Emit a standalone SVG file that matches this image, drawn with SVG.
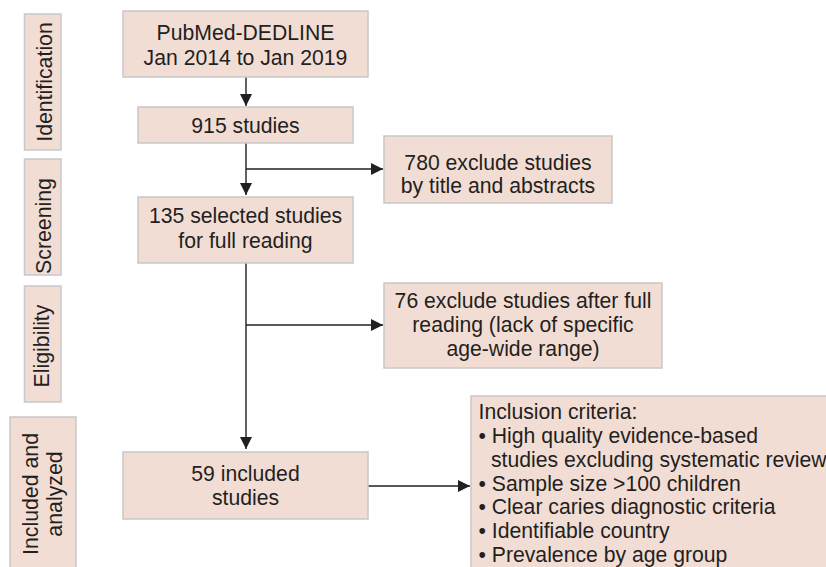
<svg xmlns="http://www.w3.org/2000/svg" width="826" height="567" viewBox="0 0 826 567">
  <style>
    .box { fill: #f2ddd5; stroke: #c8c8c8; stroke-width: 1.5; }
    .t { font-family: "Liberation Sans", Arial, sans-serif; font-size: 21.2px; fill: #231f20; }
    .c { text-anchor: middle; }
    .side { font-family: "Liberation Sans", Arial, sans-serif; font-size: 21.3px; fill: #231f20; text-anchor: middle; }
    .ln { stroke: #231f20; stroke-width: 1.4; fill: none; }
  </style>
  <defs>
    <marker id="ah" markerUnits="userSpaceOnUse" markerWidth="12" markerHeight="12" refX="12" refY="6" orient="auto">
      <path d="M0,0 L12,6 L0,12 z" fill="#231f20"/>
    </marker>
  </defs>
  <rect width="826" height="567" fill="#ffffff"/>

  <g id="stage-identification">
    <rect class="box" x="24.5" y="14" width="36.5" height="136"/>
    <text class="side" transform="translate(52,82) rotate(-90)">Identification</text>
  </g>
  <g id="stage-screening">
    <rect class="box" x="24.5" y="159" width="36.5" height="116"/>
    <text class="side" transform="translate(51,226) rotate(-90)">Screening</text>
  </g>
  <g id="stage-eligibility">
    <rect class="box" x="24.5" y="286" width="36.5" height="116"/>
    <text class="side" transform="translate(49,346) rotate(-90)">Eligibility</text>
  </g>
  <g id="stage-included">
    <rect class="box" x="10" y="417" width="66" height="170"/>
    <text class="side" transform="translate(38,494) rotate(-90)">Included and</text>
    <text class="side" transform="translate(62,494) rotate(-90)">analyzed</text>
  </g>

  <g id="connectors">
    <line class="ln" x1="246" y1="77" x2="246" y2="106" marker-end="url(#ah)"/>
    <line class="ln" x1="246" y1="143" x2="246" y2="195" marker-end="url(#ah)"/>
    <line class="ln" x1="246" y1="169" x2="383" y2="169" marker-end="url(#ah)"/>
    <line class="ln" x1="246" y1="263" x2="246" y2="449" marker-end="url(#ah)"/>
    <line class="ln" x1="246" y1="325" x2="383" y2="325" marker-end="url(#ah)"/>
    <line class="ln" x1="368" y1="486" x2="470" y2="486" marker-end="url(#ah)"/>
  </g>

  <g id="pubmed">
    <rect class="box" x="123" y="11" width="245" height="66"/>
    <text class="t c" x="245.5" y="39.5">PubMed-DEDLINE</text>
    <text class="t c" x="245.5" y="64.5">Jan 2014 to Jan 2019</text>
  </g>
  <g id="n915">
    <rect class="box" x="138" y="107" width="215" height="36"/>
    <text class="t c" x="245.5" y="132.5">915 studies</text>
  </g>
  <g id="n780">
    <rect class="box" x="384" y="136" width="228" height="67"/>
    <text class="t c" x="498" y="169.5">780 exclude studies</text>
    <text class="t c" x="498" y="193">by title and abstracts</text>
  </g>
  <g id="n135">
    <rect class="box" x="138" y="197" width="215" height="66"/>
    <text class="t c" x="245.5" y="223">135 selected studies</text>
    <text class="t c" x="245.5" y="248">for full reading</text>
  </g>
  <g id="n76">
    <rect class="box" x="384" y="283" width="278" height="85"/>
    <text class="t c" x="523" y="307.5">76 exclude studies after full</text>
    <text class="t c" x="523" y="331.5">reading (lack of specific</text>
    <text class="t c" x="523" y="356">age-wide range)</text>
  </g>
  <g id="n59">
    <rect class="box" x="123" y="452" width="245" height="67"/>
    <text class="t c" x="245.5" y="481">59 included</text>
    <text class="t c" x="245.5" y="504.5">studies</text>
  </g>
  <g id="inclusion">
    <rect class="box" x="471" y="396" width="400" height="200"/>
    <text class="t" x="478.5" y="419">Inclusion criteria:</text>
    <text class="t" x="478.5" y="443">• High quality evidence-based</text>
    <text class="t" x="491" y="466.5">studies excluding systematic review</text>
    <text class="t" x="478.5" y="490.5">• Sample size &gt;100 children</text>
    <text class="t" x="478.5" y="514">• Clear caries diagnostic criteria</text>
    <text class="t" x="478.5" y="538">• Identifiable country</text>
    <text class="t" x="478.5" y="562">• Prevalence by age group</text>
  </g>
</svg>
